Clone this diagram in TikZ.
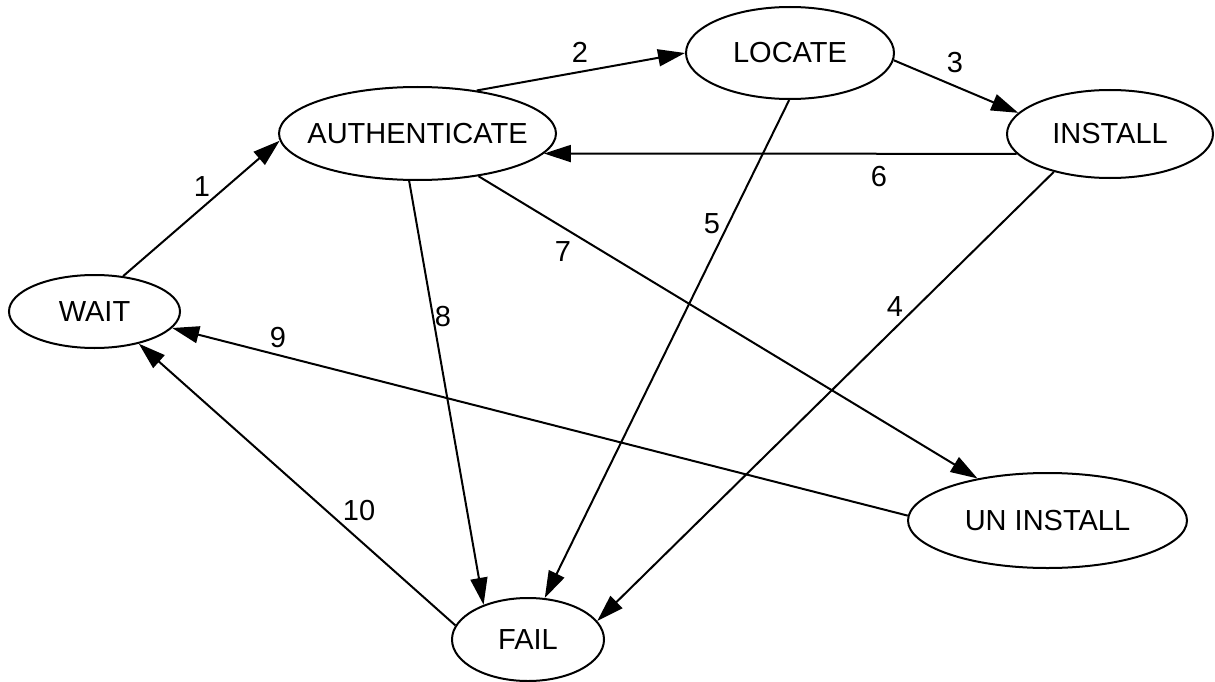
\documentclass[tikz,border=0pt]{standalone}
\usepackage{fontspec}
\setmainfont{Liberation Sans}
\usetikzlibrary{shapes.geometric,arrows.meta}
\begin{document}
\begin{tikzpicture}[x=1pt,y=-1pt,
  state/.style={ellipse, draw, line width=2pt, inner sep=0pt,
                font=\fontsize{29}{34}\selectfont},
  link/.style={line width=2pt, -{Triangle[length=27pt,width=17pt]}},
  tag/.style={font=\fontsize{29}{34}\selectfont, inner sep=0pt}]
\useasboundingbox (0,0) rectangle (1215,682);

% states
\node[state, minimum width=171pt, minimum height=73pt] (wait)      at (94.5,311.5)  {WAIT};
\node[state, inner xsep=-15pt, minimum width=277pt, minimum height=93pt] (auth) at (417.5,133.5) {AUTHENTICATE};
\node[state, minimum width=208pt, minimum height=92pt] (locate)    at (790,53)      {LOCATE};
\node[state, minimum width=206pt, minimum height=88pt] (install)   at (1110,134)    {INSTALL};
\node[state, minimum width=279pt, minimum height=95pt] (uninstall) at (1047.5,520.5) {UN INSTALL};
\node[state, minimum width=152pt, minimum height=83pt] (fail)      at (528,639.5)   {FAIL};

% transitions
\draw[link] (wait.51)         -- (auth.183.5);
\draw[link] (auth.36.5)       -- (locate.180);
\draw[link] (locate.-4)       -- (install.167);
\draw[link] (install.214)     -- (fail.15);
\draw[link] (locate.-91)      -- (fail.68);
\draw[link] (install.192.3)   -- (auth.-9.4);
\draw[link] (auth.-35)        -- (uninstall.149);
\draw[link] (auth.-100)       -- (fail.142);
\draw[link] (uninstall.178.6) -- (wait.-12);
\draw[link] (fail.169)        -- (wait.-36);

% transition numbers
\node[tag] (n1)  at (202,187) {1};
\node[tag] (n2)  at (580,52)  {2};
\node[tag] (n3)  at (955,63)  {3};
\node[tag] (n4)  at (895,307) {4};
\node[tag] (n5)  at (712,224) {5};
\node[tag] (n6)  at (879,177) {6};
\node[tag] (n7)  at (563,252) {7};
\node[tag] (n8)  at (443,317) {8};
\node[tag] (n9)  at (278,338) {9};
\node[tag] (n10) at (359,511) {10};
\end{tikzpicture}
\end{document}
